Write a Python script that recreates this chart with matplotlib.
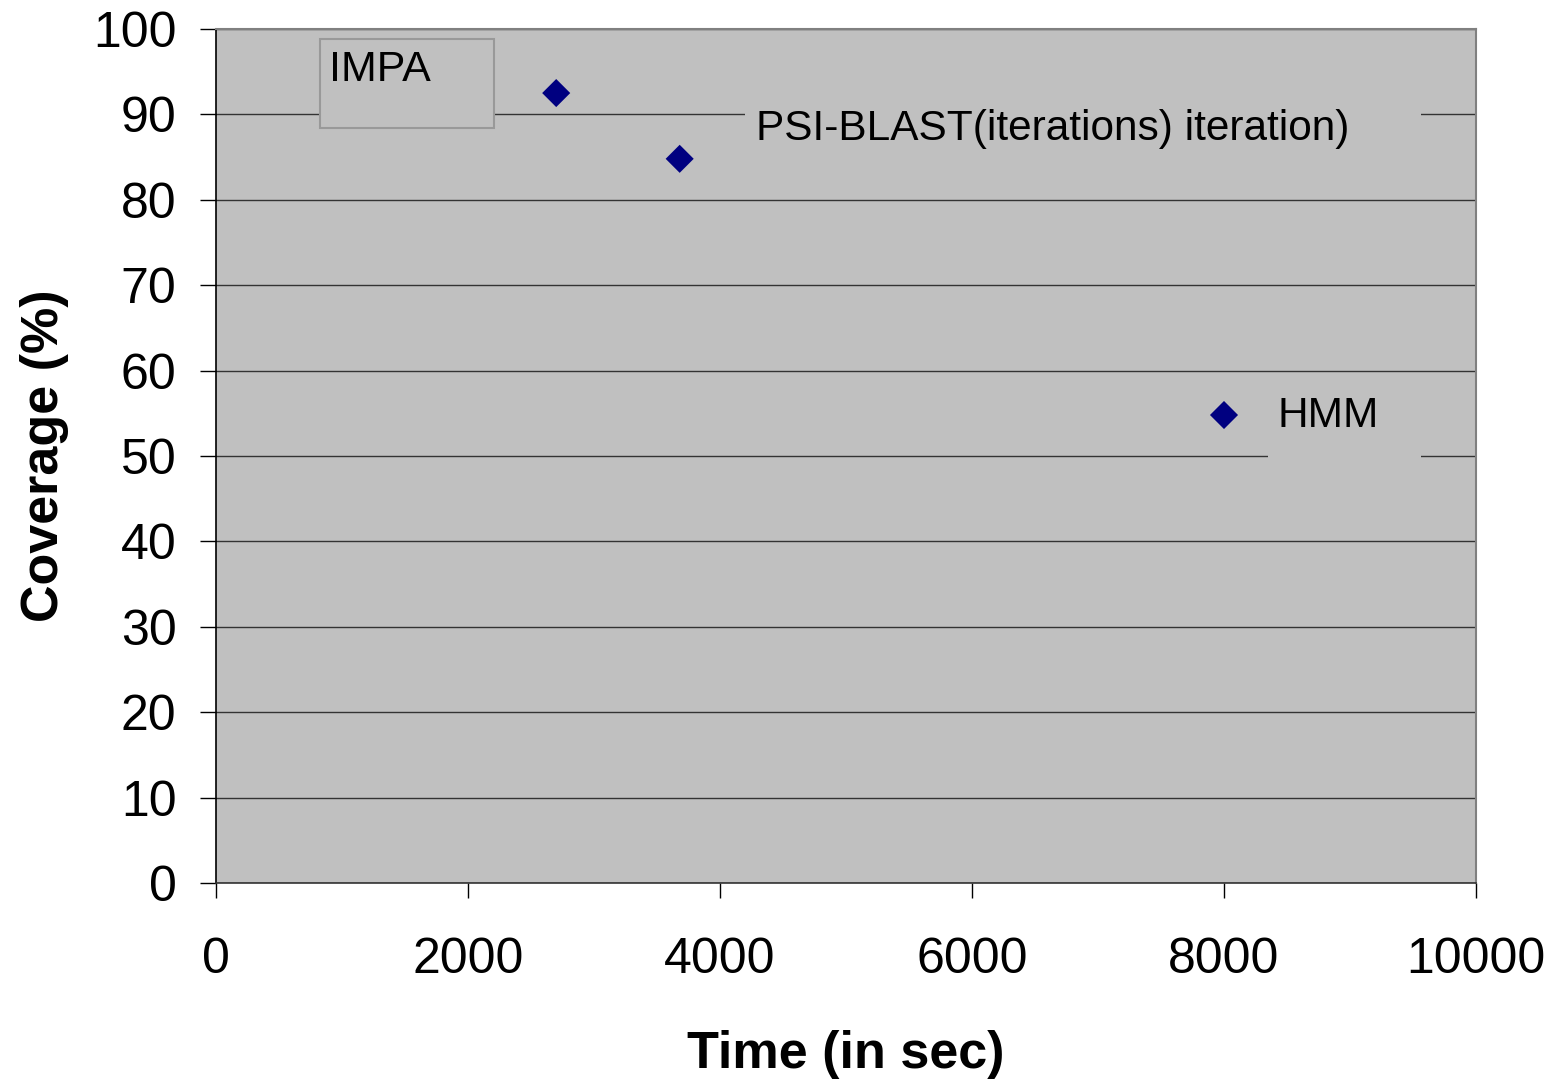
import matplotlib
matplotlib.use("Agg")
import matplotlib.pyplot as plt
from matplotlib.patches import Rectangle

# Data
methods = ["IMPA", "PSI-BLAST(iterations) iteration)", "HMM"]
time_sec = [2700, 3680, 8000]
coverage = [92.5, 84.8, 54.8]
x_ticks = [0, 2000, 4000, 6000, 8000, 10000]
y_ticks = [0, 10, 20, 30, 40, 50, 60, 70, 80, 90, 100]

plt.rcParams['font.family'] = ['Liberation Sans', 'DejaVu Sans']

W, H = 1556, 1079
fig = plt.figure(figsize=(W / 100, H / 100), dpi=100)
ax = fig.add_axes([216 / W, (H - 883) / H, 1260 / W, 854 / H])

bg = '#C0C0C0'
ax.set_facecolor(bg)
ax.set_xlim(0, 10000)
ax.set_ylim(0, 100)
ax.set_xticks(x_ticks)
ax.set_yticks(y_ticks)
ax.yaxis.grid(True, color='#333333', linewidth=1.0, zorder=1)
ax.set_axisbelow(True)

for s in ['top', 'right']:
    ax.spines[s].set_color('#808080')
    ax.spines[s].set_linewidth(1.5)
ax.spines['left'].set_color('black')
ax.spines['bottom'].set_color('#333333')
ax.spines['left'].set_linewidth(1.2)
ax.spines['bottom'].set_linewidth(1.2)

ax.tick_params(axis='y', direction='out', length=11.5, width=1, pad=17, labelsize=36)
ax.tick_params(axis='x', direction='out', length=11, width=1, pad=28, labelsize=36)

ax.scatter(time_sec, coverage, marker='D', s=14.3 ** 2, color='#000080',
           edgecolors='none', zorder=5)

ax.set_xlabel('Time (in sec)', fontsize=37.5, fontweight='bold', labelpad=34)
ax.set_ylabel('Coverage (%)', fontsize=37.5, fontweight='bold', labelpad=17)

# label boxes (axes-fraction coordinates)
label_boxes = [
    (0.0825, 0.8841, 0.1381, 0.1042, '#999999'),
    (0.4198, 0.8407, 0.5365, 0.0762, 'none'),
    (0.8349, 0.4836, 0.1214, 0.0878, 'none'),
]
label_text_pos = [(0.0895, 0.975), (0.4285, 0.906), (0.8428, 0.570)]
label_sizes = [31, 30.5, 30.5]
for (x0, y0, w, h, ec), (tx, ty), name, fs in zip(label_boxes, label_text_pos, methods, label_sizes):
    ax.add_patch(Rectangle((x0, y0), w, h, transform=ax.transAxes, facecolor=bg,
                           edgecolor=ec, linewidth=1.5, zorder=3))
    ax.text(tx, ty, name, transform=ax.transAxes, fontsize=fs, ha='left', va='top',
            zorder=4, color='black')

fig.savefig('out.png', dpi=100)
